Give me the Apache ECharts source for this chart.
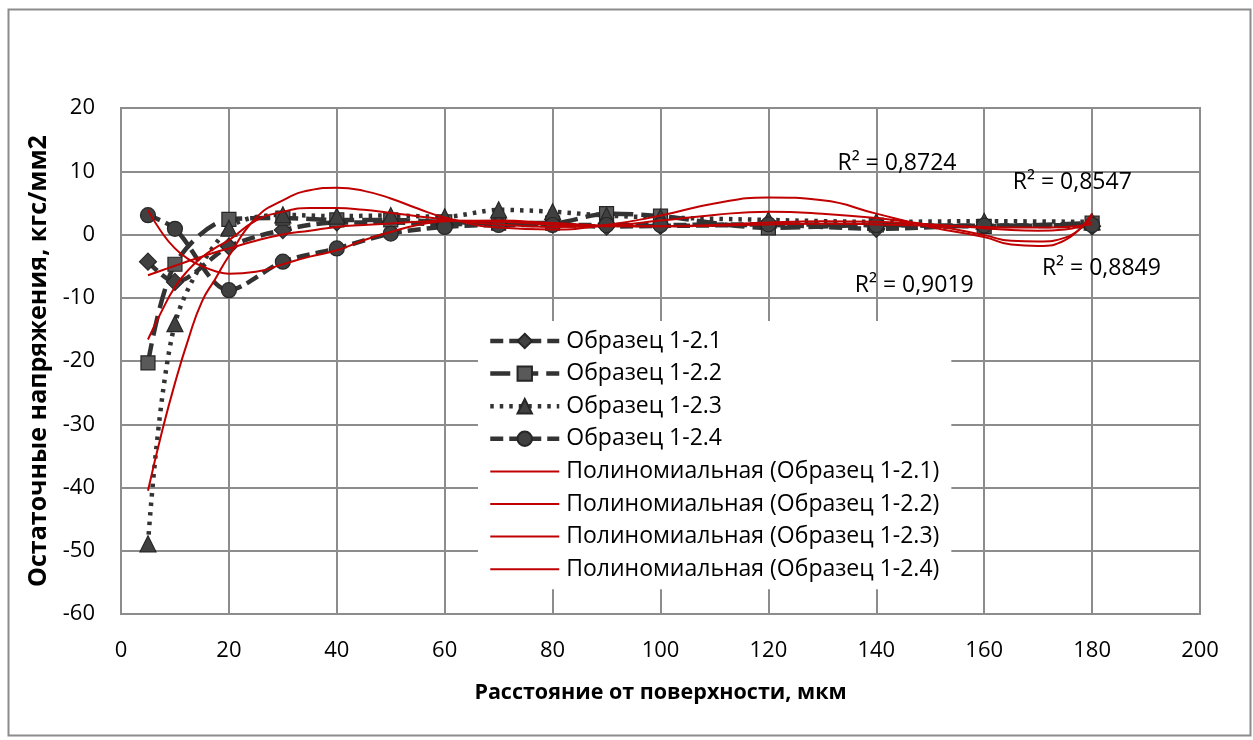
<!DOCTYPE html>
<html>
<head>
<meta charset="utf-8">
<script src="https://cdn.jsdelivr.net/npm/echarts@6/dist/echarts.min.js"></script>
<style>
  html, body { margin: 0; padding: 0; background: #ffffff; }
  #chart { width: 1253px; height: 740px; }
</style>
</head>
<body>
<div id="chart"></div>
<script>
// Measurement depths, µm
const distances = [5, 10, 20, 30, 40, 50, 60, 70, 80, 90, 100, 120, 140, 160, 180];

// Residual stress per specimen, kgf/mm²
const sample1 = [-4.3, -7.5, -1.9, 0.7, 1.9, 1.9, 1.6, 1.8, 1.6, 1.25, 1.35, 1.5, 0.9, 1.4, 1.3];
const sample2 = [-20.3, -4.7, 2.4, 2.6, 2.3, 2.3, 2.0, 1.8, 1.8, 3.3, 2.9, 1.05, 1.5, 1.3, 1.8];
const sample3 = [-48.9, -14.1, 1.0, 3.1, 2.9, 3.0, 2.8, 3.9, 3.6, 3.0, 2.7, 2.3, 2.0, 2.1, 2.0];
const sample4 = [3.05, 0.9, -8.8, -4.3, -2.2, 0.15, 1.2, 1.5, 1.5, 1.5, 1.5, 1.6, 1.5, 1.4, 1.5];

// Polynomial trend curves, sampled along the depth axis
const trendX = [5, 7.5, 10, 12.5, 15, 17.5, 20, 25, 30, 35, 40, 45, 50, 55, 60, 70, 80, 90, 100, 110, 120, 130, 140, 150, 160, 165, 170, 175, 180];
const trend1 = [-6.45, -5.7, -4.95, -4.2, -3.5, -2.8, -2.2, -1.0, 0.0, 0.6, 1.2, 1.5, 1.75, 2.0, 2.2, 2.0, 1.6, 1.3, 1.3, 1.4, 1.6, 1.7, 1.6, 1.4, 1.2, 1.1, 1.1, 1.2, 1.6];
const trend2 = [-16.6, -12.2, -8.3, -5.6, -3.6, -2.1, -0.9, 2.2, 3.6, 4.2, 4.2, 3.9, 3.4, 2.9, 2.4, 1.6, 1.2, 1.4, 2.2, 3.1, 3.6, 3.3, 2.6, 1.5, -0.1, -1.0, -1.1, -0.5, 2.9];
const trend3 = [-40.5, -31.5, -23.5, -16.5, -10.6, -7.0, -3.4, 2.6, 5.4, 7.0, 7.4, 6.9, 5.7, 4.1, 2.7, 1.1, 0.8, 1.5, 3.0, 4.9, 5.85, 5.4, 3.3, 1.2, -0.4, -1.6, -1.8, -0.9, 3.3];
const trend4 = [3.85, 0.4, -2.2, -3.9, -5.0, -5.8, -6.2, -5.9, -4.7, -3.5, -2.5, -0.9, 0.4, 1.5, 2.1, 2.2, 1.8, 1.4, 1.3, 1.5, 1.9, 2.1, 2.0, 1.6, 1.0, 0.7, 0.6, 0.8, 2.0];

// Coefficients of determination and where their labels sit (data units)
const r2Labels = ['R² = 0,8724', 'R² = 0,8547', 'R² = 0,8849', 'R² = 0,9019'];
const r2AnchorX = [132.8, 165.3, 170.7, 136.0];
const r2AnchorY = [11.3, 8.3, -5.3, -8.0];

const sampleNames = ['Образец 1-2.1', 'Образец 1-2.2', 'Образец 1-2.3', 'Образец 1-2.4'];
const trendNames = sampleNames.map(n => 'Полиномиальная (' + n + ')');

const FONT = 'Open Sans';
const GRID_GRAY = '#8c8c8c';
const MARK = '#404040';
const RED = '#c00000';

const pairs = (xs, ys) => xs.map((x, i) => [x, ys[i]]);

const sampleStyles = [
  { symbol: 'diamond', size: 17, dash: [13, 6], data: sample1, fill: MARK },
  { symbol: 'rect', size: 14, dash: [20, 8], data: sample2, fill: '#595959' },
  { symbol: 'triangle', size: 16, dash: [3.5, 6], data: sample3, fill: MARK },
  { symbol: 'circle', size: 15, dash: [13, 6], data: sample4, fill: MARK }
];

const sampleSeries = sampleStyles.map((s, i) => ({
  name: sampleNames[i],
  type: 'line',
  data: pairs(distances, s.data),
  smooth: 0.3,
  symbol: s.symbol,
  symbolSize: s.size,
  showAllSymbol: true,
  lineStyle: { color: '#333333', width: 4.5, type: s.dash },
  itemStyle: { color: s.fill, borderColor: '#262626', borderWidth: 1.2 },
  z: 2
}));

const trendData = [trend1, trend2, trend3, trend4];
const trendSeries = trendData.map((t, i) => ({
  name: trendNames[i],
  type: 'line',
  data: pairs(trendX, t),
  smooth: true,
  symbol: 'none',
  lineStyle: { color: RED, width: 2 },
  // no marker on the trend lines, in the plot or in the legend
  itemStyle: { color: RED, opacity: 0 },
  z: 3
}));

const chart = echarts.init(document.getElementById('chart'), null, { renderer: 'canvas' });

chart.setOption({
  animation: false,
  backgroundColor: '#ffffff',
  textStyle: { fontFamily: FONT },
  grid: {
    left: 121, right: 53, top: 108, bottom: 126,
    show: true, borderColor: GRID_GRAY, borderWidth: 2
  },
  xAxis: {
    type: 'value',
    min: 0, max: 200, interval: 20,
    name: 'Расстояние от поверхности, мкм',
    nameLocation: 'middle',
    nameGap: 68,
    nameTextStyle: { fontFamily: FONT, fontSize: 21.5, fontWeight: 'bold', color: '#000' },
    axisLine: { show: true, lineStyle: { color: GRID_GRAY, width: 2 } },
    axisTick: { show: false },
    axisLabel: { margin: 26, fontFamily: FONT, fontSize: 22, color: '#000' },
    splitLine: { show: true, lineStyle: { color: GRID_GRAY, width: 2 } }
  },
  yAxis: {
    type: 'value',
    min: -60, max: 20, interval: 10,
    name: 'Остаточные напряжения, кгс/мм2',
    nameLocation: 'middle',
    nameGap: 70,
    nameTextStyle: { fontFamily: FONT, fontSize: 25, fontWeight: 'bold', color: '#000' },
    axisLine: { show: true, lineStyle: { color: GRID_GRAY, width: 2 } },
    axisTick: { show: false },
    axisLabel: { margin: 26, fontFamily: FONT, fontSize: 22, color: '#000' },
    splitLine: { show: true, lineStyle: { color: GRID_GRAY, width: 2 } }
  },
  legend: {
    orient: 'vertical',
    left: 478, top: 321,
    padding: [8, 12, 8, 10],
    backgroundColor: '#ffffff',
    itemWidth: 69, itemHeight: 18, itemGap: 8.6,
    lineStyle: { width: 'inherit', type: 'inherit' },
    data: sampleNames.concat(trendNames),
    textStyle: { fontFamily: FONT, fontSize: 23, color: '#000', lineHeight: 24, padding: [0, 0, 0, 2] }
  },
  series: sampleSeries.concat(trendSeries)
});

// Chart-area frame and the R² annotations, placed in data coordinates
chart.setOption({
  graphic: [
    {
      type: 'rect', left: 6, top: 7, silent: true,
      shape: { width: 1242, height: 726 },
      style: { fill: 'none', stroke: GRID_GRAY, lineWidth: 2 }
    }
  ].concat(r2Labels.map((txt, i) => {
    const p = chart.convertToPixel({ gridIndex: 0 }, [r2AnchorX[i], r2AnchorY[i]]);
    return {
      type: 'text', x: p[0], y: p[1], z: 10,
      style: { text: txt, font: '23px "' + FONT + '"', fill: '#000', verticalAlign: 'middle' }
    };
  }))
});
</script>
</body>
</html>
